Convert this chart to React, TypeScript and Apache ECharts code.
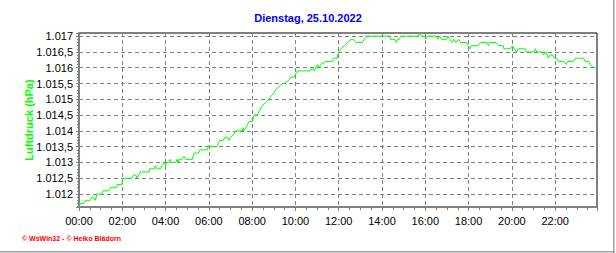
import React, { useEffect, useRef } from 'react';
import * as echarts from 'echarts';

const chartTitle = 'Dienstag, 25.10.2022';
const yAxisName = 'Luftdruck (hPa)';
const footerText = '© WsWin32 - © Heiko Blädorn';

// minutes since 00:00
const times = [
  0, 4, 13, 17, 31, 36, 40, 45, 50, 64, 67, 82, 87, 104, 106, 119, 122, 147, 150, 158,
  161, 166, 170, 194, 196, 209, 212, 215, 226, 230, 237, 240, 243, 249, 252, 254, 268, 272, 275, 277,
  286, 291, 295, 314, 319, 332, 335, 356, 358, 383, 386, 390, 400, 405, 411, 416, 420, 430, 434, 453,
  455, 457, 463, 467, 471, 481, 485, 494, 499, 508, 518, 527, 532, 541, 545, 554, 564, 568, 582, 587,
  596, 605, 642, 647, 652, 661, 666, 670, 684, 703, 705, 715, 720, 726, 736, 745, 754, 761, 768, 786,
  791, 796, 861, 863, 875, 880, 883, 888, 892, 940, 944, 949, 958, 961, 965, 991, 995, 1000, 1005, 1019,
  1023, 1028, 1035, 1039, 1045, 1052, 1058, 1074, 1079, 1084, 1088, 1107, 1113, 1130, 1135, 1138, 1156, 1162, 1176, 1178,
  1195, 1202, 1207, 1213, 1218, 1237, 1240, 1262, 1265, 1269, 1283, 1288, 1295, 1301, 1306, 1313, 1319, 1324, 1329, 1343,
  1351, 1354, 1371, 1376, 1399, 1403, 1413, 1417, 1427, 1436,
];

// hPa
const pressure = [
  1011.6, 1011.7, 1011.7, 1011.8, 1011.8, 1011.9, 1011.9, 1011.8, 1012.0, 1012.0, 1012.1, 1012.1, 1012.2, 1012.2, 1012.3, 1012.3, 1012.5, 1012.5, 1012.6, 1012.6,
  1012.5, 1012.6, 1012.7, 1012.7, 1012.8, 1012.8, 1012.9, 1012.8, 1012.8, 1012.9, 1013.0, 1012.9, 1013.0, 1013.0, 1013.1, 1013.0, 1013.0, 1013.1, 1013.0, 1013.1,
  1013.1, 1013.2, 1013.1, 1013.1, 1013.3, 1013.3, 1013.4, 1013.4, 1013.5, 1013.5, 1013.6, 1013.7, 1013.7, 1013.8, 1013.8, 1013.7, 1013.8, 1013.9, 1014.0, 1014.0,
  1014.1, 1014.0, 1014.1, 1014.2, 1014.3, 1014.3, 1014.5, 1014.5, 1014.6, 1014.8, 1014.9, 1015.0, 1015.1, 1015.2, 1015.3, 1015.4, 1015.5, 1015.5, 1015.6, 1015.7,
  1015.7, 1015.9, 1015.9, 1016.0, 1015.9, 1016.1, 1016.0, 1016.1, 1016.2, 1016.2, 1016.3, 1016.3, 1016.5, 1016.6, 1016.7, 1016.8, 1016.9, 1016.9, 1016.8, 1016.8,
  1016.9, 1017.0, 1017.0, 1016.9, 1016.9, 1016.8, 1016.9, 1016.9, 1017.0, 1017.0, 1017.1, 1017.0, 1017.0, 1016.9, 1017.0, 1017.0, 1016.9, 1017.0, 1016.9, 1016.9,
  1017.0, 1016.9, 1016.8, 1016.9, 1016.8, 1016.9, 1016.8, 1016.8, 1016.7, 1016.6, 1016.7, 1016.7, 1016.8, 1016.8, 1016.7, 1016.8, 1016.8, 1016.7, 1016.7, 1016.6,
  1016.6, 1016.7, 1016.6, 1016.5, 1016.6, 1016.6, 1016.5, 1016.5, 1016.6, 1016.5, 1016.5, 1016.4, 1016.5, 1016.3, 1016.4, 1016.4, 1016.3, 1016.3, 1016.2, 1016.2,
  1016.1, 1016.2, 1016.2, 1016.3, 1016.3, 1016.2, 1016.2, 1016.1, 1016.0, 1016.0,
];

const FONT = '"Liberation Sans", Arial, sans-serif';

function fmtTime(v: number): string {
  const h = Math.floor(v / 60);
  const m = Math.round(v % 60);
  return String(h).padStart(2, '0') + ':' + String(m).padStart(2, '0');
}

function fmtPressure(v: number): string {
  const r = Math.round(v * 10) / 10;
  if (Math.abs(r * 2 - Math.round(r * 2)) > 1e-6) return '';
  const int = Math.floor(r + 1e-9);
  const frac = Math.round((r - int) * 10);
  const s = String(int);
  const withDot = s.length > 3 ? s.slice(0, s.length - 3) + '.' + s.slice(-3) : s;
  return frac ? withDot + ',' + frac : withDot;
}

export default function App() {
  const ref = useRef<HTMLDivElement>(null);
  useEffect(() => {
    document.body.style.margin = '0';
    const chart = echarts.init(ref.current!, null, { renderer: 'svg' });
    const data = times.map((t, i) => [t, pressure[i]]);
    chart.setOption({
      animation: false,
      backgroundColor: '#ffffff',
      title: {
        text: chartTitle,
        left: 'center',
        top: 12,
        padding: 0,
        textStyle: { color: '#0000ff', fontSize: 11, fontWeight: 'bold', fontFamily: FONT },
      },
      grid: {
        left: 79,
        right: 19,
        top: 33,
        bottom: 46,
        show: true,
        borderColor: '#000000',
        borderWidth: 1,
        backgroundColor: 'transparent',
      },
      xAxis: {
        type: 'value',
        min: 0,
        max: 1436,
        interval: 120,
        axisLine: { show: true, onZero: false, lineStyle: { color: '#808080', width: 2 } },
        axisTick: { show: true, length: 4, lineStyle: { color: '#808080' } },
        minorTick: { show: true, splitNumber: 4, length: 3, lineStyle: { color: '#808080' } },
        axisLabel: {
          showMaxLabel: false,
          margin: 8,
          color: '#000000',
          fontSize: 11,
          fontFamily: FONT,
          formatter: (v: number) => (v % 120 === 0 ? fmtTime(v) : ''),
        },
        splitLine: { show: true, lineStyle: { color: '#808080', type: [4, 3], width: 1 } },
      },
      yAxis: {
        type: 'value',
        min: 1011.59,
        max: 1017.1,
        splitNumber: 11,
        minInterval: 0.5,
        maxInterval: 0.5,
        name: yAxisName,
        nameLocation: 'middle',
        nameGap: 45,
        nameMoveOverlap: false,
        nameTextStyle: { color: '#00ff00', fontSize: 11, fontWeight: 'bold', fontFamily: FONT },
        axisLine: { show: true, onZero: false, lineStyle: { color: '#808080', width: 2 } },
        axisTick: { show: true, length: 3, lineStyle: { color: '#808080' } },
        minorTick: { show: true, splitNumber: 5, length: 2, lineStyle: { color: '#808080' } },
        axisLabel: {
          showMinLabel: false,
          showMaxLabel: false,
          margin: 6,
          color: '#000000',
          fontSize: 11,
          fontFamily: FONT,
          formatter: (v: number) => fmtPressure(v),
        },
        splitLine: { show: true, lineStyle: { color: '#808080', type: [4, 3], width: 1 } },
      },
      series: [
        {
          type: 'line',
          data,
          symbol: 'none',
          showSymbol: false,
          lineStyle: { color: '#00ff00', width: 1 },
          itemStyle: { color: '#00ff00' },
        },
      ],
      graphic: [
        {
          type: 'text',
          left: 22,
          top: 235,
          style: { text: footerText, fill: '#ff0000', fontSize: 7, fontWeight: 'bold', fontFamily: FONT },
        },
        { type: 'rect', shape: { x: 613, y: 0, width: 1.5, height: 253 }, style: { fill: '#a0a0a0' } },
        { type: 'rect', shape: { x: 0, y: 251, width: 615, height: 1.5 }, style: { fill: '#a0a0a0' } },
      ],
    });
    return () => chart.dispose();
  }, []);
  return <div ref={ref} style={{ width: 616, height: 253 }} />;
}
